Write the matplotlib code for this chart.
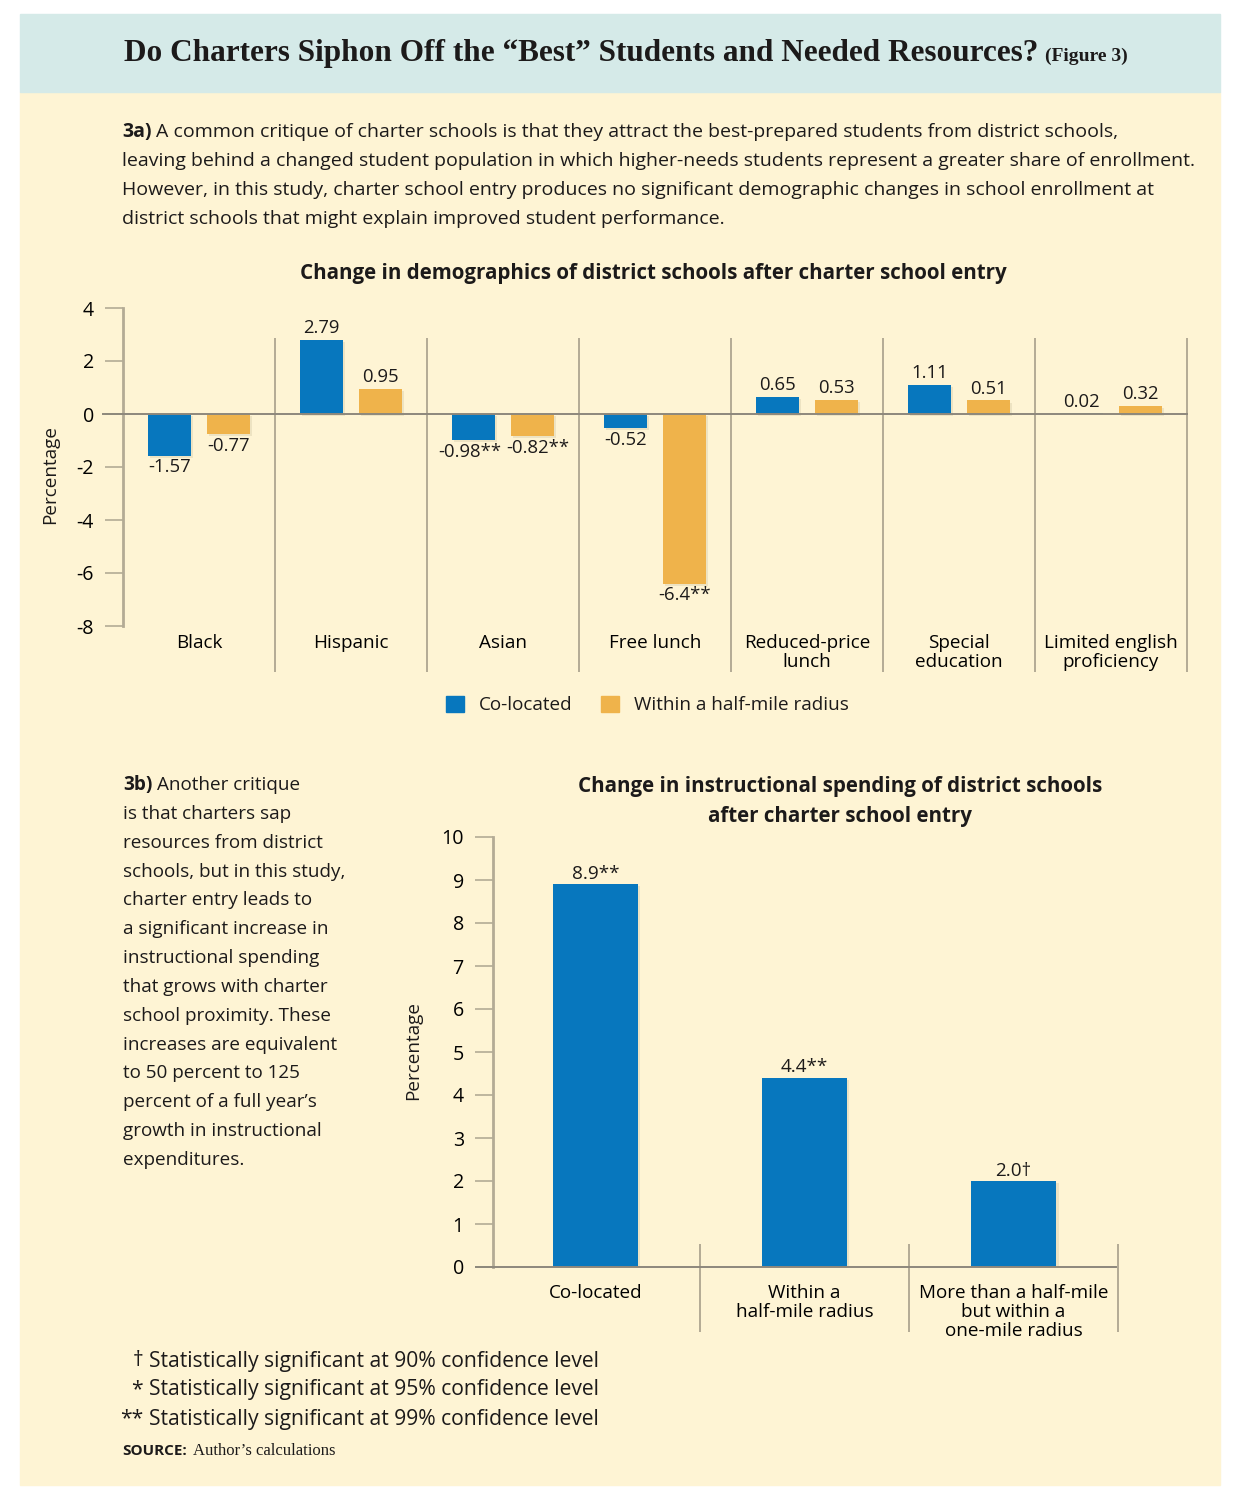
import matplotlib
matplotlib.use('Agg')
import matplotlib.pyplot as plt
import matplotlib.patheffects as pe
from matplotlib.patches import Rectangle
import numpy as np

# ---------------- data ----------------
categories_a = ['Black', 'Hispanic', 'Asian', 'Free lunch', 'Reduced-price\nlunch',
                'Special\neducation', 'Limited english\nproficiency']
colocated_a = [-1.57, 2.79, -0.98, -0.52, 0.65, 1.11, 0.02]
halfmile_a = [-0.77, 0.95, -0.82, -6.4, 0.53, 0.51, 0.32]
colocated_a_labels = ['-1.57', '2.79', '-0.98**', '-0.52', '0.65', '1.11', '0.02']
halfmile_a_labels = ['-0.77', '0.95', '-0.82**', '-6.4**', '0.53', '0.51', '0.32']
yticks_a = [4, 2, 0, -2, -4, -6, -8]
series_names = ['Co-located', 'Within a half-mile radius']

categories_b = ['Co-located', 'Within a\nhalf-mile radius',
                'More than a half-mile\nbut within a\none-mile radius']
spending_b = [8.9, 4.4, 2.0]
spending_b_labels = ['8.9**', '4.4**', '2.0\u2020']
yticks_b = [0, 1, 2, 3, 4, 5, 6, 7, 8, 9, 10]

# ---------------- style ----------------
W, H = 1240, 1500
BLUE = '#0777be'
ORANGE = '#efb34b'
TEAL = '#d5eae8'
CREAM = '#fef4d4'
TXT = '#1c1a1a'
AXC = '#b3ab95'
ZC = '#8d887c'
SANS = ['Open Sans', 'DejaVu Sans']
SERIF = ['Liberation Serif', 'DejaVu Serif']
FS = 13.6
FS_PARA_A = 14.0
FS_TITLE = 14.8
FS_NOTE = 15.2
# horizontal nudges (points) for crowded value labels: (series, category) -> dx
label_nudge = {(0, 2): -3, (1, 2): 4}

plt.rcParams['font.family'] = SANS
plt.rcParams['text.color'] = TXT


def fx(x):
    return x / W


def fy(y):
    return 1 - y / H


fig = plt.figure(figsize=(W / 100, H / 100), dpi=100)
fig.patch.set_facecolor('white')
fig.patches.append(Rectangle((fx(20), fy(1485)), fx(1200), (1485 - 92) / H,
                             transform=fig.transFigure, color=CREAM, zorder=-10))
fig.patches.append(Rectangle((fx(20), fy(92)), fx(1200), (92 - 14) / H,
                             transform=fig.transFigure, color=TEAL, zorder=-10))
renderer = fig.canvas.get_renderer()

# ---------------- title ----------------
t1 = fig.text(0, fy(53), 'Do Charters Siphon Off the \u201cBest\u201d Students and Needed Resources?',
              family=SERIF, weight='bold', fontsize=22.5, va='center', ha='left')
t2 = fig.text(0, fy(56), '(Figure 3)', family=SERIF, weight='bold', fontsize=14,
              va='center', ha='left')
w1 = t1.get_window_extent(renderer).width
w2 = t2.get_window_extent(renderer).width
gap = 7
total = w1 + gap + w2
x0 = 626 - total / 2
t1.set_x(fx(x0))
t2.set_x(fx(x0 + w1 + gap))


def para_line(x, y, bold, rest, fs=FS):
    if bold:
        tb = fig.text(fx(x), fy(y), bold, weight='bold', fontsize=fs, va='center', ha='left')
        bb = tb.get_window_extent(renderer)
        fig.text(bb.x1 / W + 5 / W, fy(y), rest, fontsize=fs, va='center', ha='left')
    else:
        fig.text(fx(x), fy(y), rest, fontsize=fs, va='center', ha='left')


# ---------------- 3a paragraph ----------------
lines_a = ['A common critique of charter schools is that they attract the best-prepared students from district schools,',
           'leaving behind a changed student population in which higher-needs students represent a greater share of enrollment.',
           'However, in this study, charter school entry produces no significant demographic changes in school enrollment at',
           'district schools that might explain improved student performance.']
for i, ln in enumerate(lines_a):
    para_line(122, 132 + 29 * i, '3a)' if i == 0 else None, ln, fs=FS_PARA_A)

# ---------------- chart A ----------------
fig.text(fx(653), fy(273), 'Change in demographics of district schools after charter school entry',
         weight='bold', fontsize=FS_TITLE, ha='center', va='center')

axA = fig.add_axes([fx(123), fy(626), (1187 - 123) / W, (626 - 308) / H])
axA.set_facecolor('none')
xa = np.arange(len(categories_a))
off, bw = 0.194, 0.283
shadow = [pe.SimplePatchShadow(offset=(1.5, -1.5), shadow_rgbFace='#d9cfae', alpha=0.45), pe.Normal()]
bars1 = axA.bar(xa - off, colocated_a, bw, color=BLUE, zorder=2, path_effects=shadow)
bars2 = axA.bar(xa + off, halfmile_a, bw, color=ORANGE, zorder=2, path_effects=shadow)
for si, (bars, labels) in enumerate(((bars1, colocated_a_labels), (bars2, halfmile_a_labels))):
    for ci, (b, lab) in enumerate(zip(bars, labels)):
        v = b.get_height()
        cx = b.get_x() + b.get_width() / 2
        dx = label_nudge.get((si, ci), 0)
        if v >= 0:
            axA.annotate(lab, (cx, v), xytext=(dx, 2), textcoords='offset points',
                         ha='center', va='bottom', fontsize=FS - 0.3)
        else:
            axA.annotate(lab, (cx, v), xytext=(dx, -2), textcoords='offset points',
                         ha='center', va='top', fontsize=FS - 0.3)
axA.set_xlim(-0.5, len(categories_a) - 0.5)
axA.set_ylim(-8, 4)
axA.set_yticks(yticks_a)
axA.set_yticklabels([str(v) for v in yticks_a])
axA.set_xticks(xa)
axA.set_xticklabels(categories_a, linespacing=1.12)
axA.tick_params(axis='x', length=0, pad=5.5, labelsize=FS)
axA.tick_params(axis='y', direction='out', length=13, width=1.2, color=AXC, pad=8, labelsize=FS + 0.5)
for s in ('top', 'right', 'bottom'):
    axA.spines[s].set_visible(False)
axA.spines['left'].set_color(AXC)
axA.spines['left'].set_linewidth(2)
axA.axhline(0, xmin=-0.019, xmax=1, color=ZC, lw=1.4, clip_on=False, zorder=3)
axA.vlines(np.arange(0.5, len(categories_a), 1), -9.74, 2.87, color=AXC, lw=1.4, clip_on=False)
fig.text(fx(50), fy(475), 'Percentage', rotation=90, ha='center', va='center', fontsize=FS)

handles = [Rectangle((0, 0), 1, 1, color=BLUE), Rectangle((0, 0), 1, 1, color=ORANGE)]
fig.legend(handles, series_names, loc='center', bbox_to_anchor=(fx(647), fy(705)), ncol=2,
           frameon=False, handlelength=1.0, handleheight=1.0, handletextpad=0.75,
           columnspacing=1.5, fontsize=FS)

# ---------------- 3b paragraph ----------------
lines_b = ['Another critique', 'is that charters sap', 'resources from district',
           'schools, but in this study,', 'charter entry leads to', 'a significant increase in',
           'instructional spending', 'that grows with charter', 'school proximity. These',
           'increases are equivalent', 'to 50 percent to 125', 'percent of a full year\u2019s',
           'growth in instructional', 'expenditures.']
for i, ln in enumerate(lines_b):
    para_line(123, 785 + 28.85 * i, '3b)' if i == 0 else None, ln)

# ---------------- chart B ----------------
fig.text(fx(840), fy(787), 'Change in instructional spending of district schools',
         weight='bold', fontsize=FS_TITLE, ha='center', va='center')
fig.text(fx(840), fy(816), 'after charter school entry',
         weight='bold', fontsize=FS_TITLE, ha='center', va='center')

axB = fig.add_axes([fx(493), fy(1267), (1116 - 493) / W, (1267 - 837) / H])
axB.set_facecolor('none')
xb = np.arange(len(categories_b))
barsB = axB.bar(xb, spending_b, 0.41, color=BLUE, zorder=2, path_effects=shadow)
for b, lab in zip(barsB, spending_b_labels):
    axB.annotate(lab, (b.get_x() + b.get_width() / 2, b.get_height()), xytext=(0, 1),
                 textcoords='offset points', ha='center', va='bottom', fontsize=FS)
axB.set_xlim(-0.49, 2.49)
axB.set_ylim(0, 10)
axB.set_yticks(yticks_b)
axB.set_yticklabels([str(v) for v in yticks_b])
axB.set_xticks(xb)
axB.set_xticklabels(categories_b, linespacing=1.07)
axB.tick_params(axis='x', length=0, pad=12, labelsize=FS)
axB.tick_params(axis='y', direction='out', length=13, width=1.2, color=AXC, pad=8, labelsize=FS + 0.5)
for s in ('top', 'right', 'bottom'):
    axB.spines[s].set_visible(False)
axB.spines['left'].set_color(AXC)
axB.spines['left'].set_linewidth(2)
axB.axhline(0, xmin=-0.027, xmax=1, color=ZC, lw=1.4, clip_on=False, zorder=3)
axB.vlines([0.5, 1.5, 2.5], -1.51, 0.53, color=AXC, lw=1.4, clip_on=False)
fig.text(fx(413), fy(1050), 'Percentage', rotation=90, ha='center', va='center', fontsize=FS)

# ---------------- footnotes ----------------
notes = [('\u2020', 'Statistically significant at 90% confidence level'),
         ('*', 'Statistically significant at 95% confidence level'),
         ('**', 'Statistically significant at 99% confidence level')]
for i, (sym, txt) in enumerate(notes):
    y = 1361 + 29 * i
    fig.text(fx(143), fy(y), sym, ha='right', va='center', fontsize=FS_NOTE)
    fig.text(fx(149), fy(y), txt, ha='left', va='center', fontsize=FS_NOTE)

ts = fig.text(fx(122), fy(1451), 'SOURCE:', weight='bold', fontsize=11, ha='left', va='center')
bb = ts.get_window_extent(renderer)
fig.text(bb.x1 / W + 6 / W, fy(1451), 'Author\u2019s calculations', family=SERIF, fontsize=12,
         ha='left', va='center')

fig.savefig('out.png', dpi=100, facecolor='white')
